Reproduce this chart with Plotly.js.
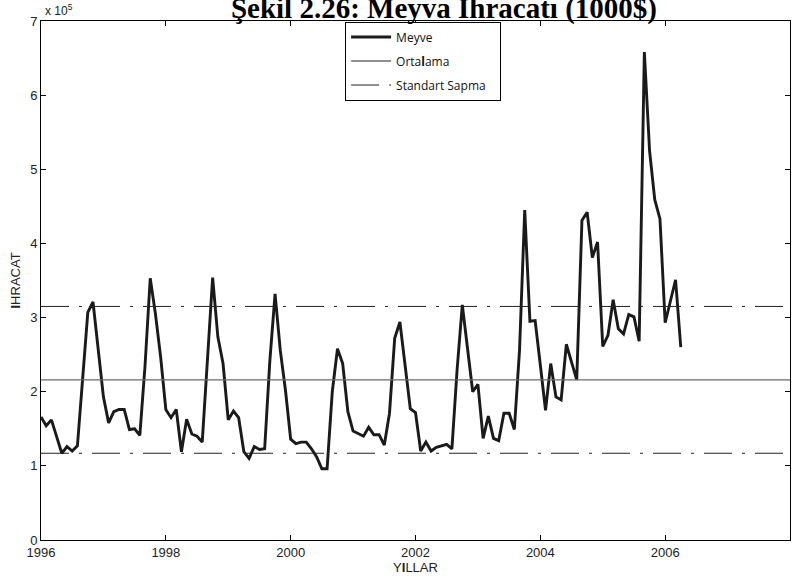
<!DOCTYPE html>
<html>
<head>
<meta charset="utf-8">
<script src="https://cdn.plot.ly/plotly-3.0.1.min.js"></script>
<style>html,body{margin:0;padding:0;background:#fff;}#chart{width:804px;height:579px;}</style>
</head>
<body>
<div id="chart"></div>
<script>
// Monthly fruit export values, units of 10^5 (thousand $), Jan 1996 .. Apr 2006
var startYear = 1996;
var meyve = [
  1.66, 1.54, 1.62, 1.39, 1.17, 1.26, 1.20, 1.27, 2.20, 3.07, 3.21, 2.58,
  1.93, 1.58, 1.73, 1.76, 1.76, 1.49, 1.50, 1.41, 2.35, 3.53, 3.05, 2.47,
  1.76, 1.65, 1.76, 1.19, 1.63, 1.43, 1.40, 1.32, 2.45, 3.54, 2.74, 2.38,
  1.62, 1.74, 1.65, 1.19, 1.10, 1.26, 1.22, 1.23, 2.42, 3.32, 2.56, 2.02,
  1.36, 1.30, 1.32, 1.32, 1.23, 1.12, 0.96, 0.96, 2.00, 2.58, 2.38, 1.73,
  1.47, 1.44, 1.40, 1.52, 1.42, 1.42, 1.28, 1.71, 2.72, 2.94, 2.36, 1.77,
  1.72, 1.20, 1.32, 1.20, 1.25, 1.27, 1.29, 1.23, 2.30, 3.17, 2.58, 2.00,
  2.10, 1.37, 1.67, 1.37, 1.34, 1.71, 1.71, 1.49, 2.56, 4.45, 2.95, 2.96,
  2.36, 1.75, 2.38, 1.93, 1.89, 2.64, 2.40, 2.16, 4.31, 4.42, 3.81, 4.02,
  2.61, 2.76, 3.24, 2.85, 2.78, 3.04, 3.01, 2.68, 6.58, 5.25, 4.59, 4.33,
  2.93, 3.22, 3.51, 2.60
];
var ortalama = 2.16;     // mean
var ustSapma = 3.15;     // mean + std
var altSapma = 1.17;     // mean - std
var xRange = [1996, 2008];
var xTicks = [1996, 1998, 2000, 2002, 2004, 2006, 2008];
var yTicks = [0, 1, 2, 3, 4, 5, 6, 7];
var seriesNames = ['Meyve', 'Orta<b>l</b>ama', 'Standart Sapma&nbsp;&nbsp;&nbsp;'];

var xs = meyve.map(function (v, i) { return startYear + i / 12; });

var tickFont = {family: '"Liberation Sans Narrow", "Arial Narrow", "Liberation Sans", sans-serif', size: 13, color: '#222'};
var dashDot = '28px,10px,3px,10px';

var traces = [
  {x: xs, y: meyve, type: 'scatter', mode: 'lines', name: seriesNames[0],
   line: {color: '#1a1a1a', width: 2.9}, legendgroup: 'a'},
  {x: xRange, y: [ortalama, ortalama], type: 'scatter', mode: 'lines', name: seriesNames[1],
   line: {color: '#6a6a6a', width: 1.3}, legendgroup: 'b'},
  {x: xRange, y: [ustSapma, ustSapma], type: 'scatter', mode: 'lines', name: seriesNames[2],
   line: {color: '#222', width: 1, dash: dashDot}, legendgroup: 'c'},
  {x: xRange, y: [altSapma, altSapma], type: 'scatter', mode: 'lines', name: seriesNames[2],
   line: {color: '#222', width: 1, dash: dashDot}, legendgroup: 'c', showlegend: false}
];

var layout = {
  width: 804, height: 579,
  margin: {l: 41, r: 14, t: 21, b: 39, pad: 0},
  paper_bgcolor: '#fff', plot_bgcolor: '#fff',
  showlegend: true,
  title: {
    text: 'Şekil 2.26: Meyva İhracatı (1000$)',
    font: {family: '"Liberation Serif", "Times New Roman", serif', size: 29, color: '#000', weight: 'bold'},
    x: 0.538, xanchor: 'center', xref: 'paper',
    y: 0.969, yanchor: 'bottom', yref: 'container'
  },
  xaxis: {
    range: xRange, tickvals: xTicks, ticktext: xTicks.map(String),
    ticks: 'inside', ticklen: 5, tickcolor: '#000', mirror: 'ticks',
    showline: true, linecolor: '#000', linewidth: 1, showgrid: false, zeroline: false,
    tickfont: tickFont,
    title: {text: 'Y<b>I</b>LLAR', font: tickFont, standoff: 0}
  },
  yaxis: {
    range: [0, 7], tickvals: yTicks, ticktext: yTicks.map(String),
    ticks: 'inside', ticklen: 5, tickcolor: '#000', mirror: 'ticks',
    showline: true, linecolor: '#000', linewidth: 1, showgrid: false, zeroline: false,
    tickfont: tickFont
  },
  legend: {
    x: 0.406, xanchor: 'left', y: 0.999, yanchor: 'top',
    bgcolor: '#fff', bordercolor: '#000', borderwidth: 1,
    font: {family: '"Open Sans", "Liberation Sans", sans-serif', size: 12, color: '#111'},
    tracegroupgap: 5, itemwidth: 40
  },
  annotations: [{
    text: 'x 10<sup>5</sup>', xref: 'paper', yref: 'paper', x: 0, y: 1, xanchor: 'left', yanchor: 'bottom',
    xshift: 2, yshift: 1, showarrow: false,
    font: {family: '"Liberation Sans Narrow", "Arial Narrow", sans-serif', size: 12, color: '#222'}
  }, {
    text: '<b>I</b>HRACAT', xref: 'paper', yref: 'paper', x: 0, y: 0.5, xanchor: 'center', yanchor: 'middle',
    xshift: -26, textangle: -90, showarrow: false, font: tickFont
  }]
};

Plotly.newPlot('chart', traces, layout, {displayModeBar: false, staticPlot: true});
</script>
</body>
</html>
